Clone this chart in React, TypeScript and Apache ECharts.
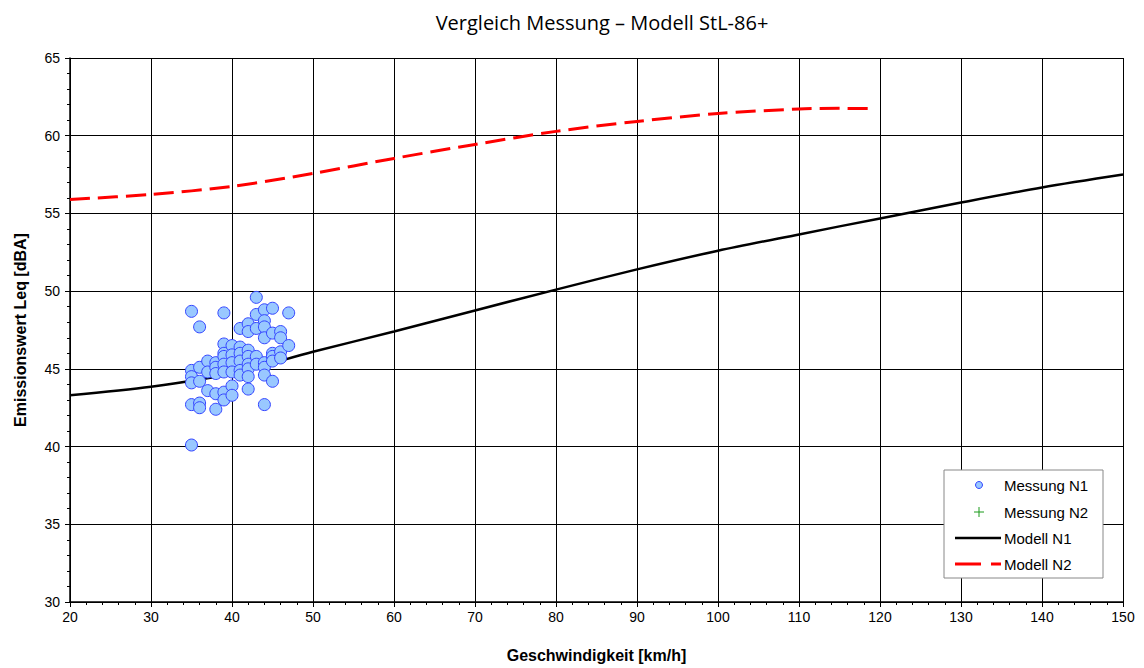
import React, { useEffect, useRef } from "react";
import * as echarts from "echarts";

const measX35 = [48.7, 44.9, 44.5, 44.1, 42.7, 40.1];
const measX36 = [47.7, 45.1, 44.2, 42.8, 42.5];
const measX37 = [45.5, 44.8, 43.6];
const measX38 = [45.4, 45.1, 44.7, 43.4, 42.4];
const measX39 = [48.6, 46.6, 46.0, 45.8, 45.3, 44.8, 43.5, 43.0];
const measX40 = [46.5, 45.9, 45.4, 44.8, 43.9, 43.3];
const measX41 = [47.6, 46.4, 46.0, 45.5, 44.9, 44.6];
const measX42 = [47.9, 47.4, 46.2, 45.8, 45.3, 45.0, 44.5, 43.7];
const measX43 = [49.6, 48.5, 47.6, 45.8, 45.3];
const measX44 = [48.8, 48.1, 47.7, 47.0, 45.4, 45.1, 44.6, 42.7];
const measX45 = [48.9, 47.3, 46.0, 45.8, 45.5, 44.2];
const measX46 = [47.4, 47.0, 46.1, 45.7];
const measX47 = [48.6, 46.5];

const measSpeeds = [35, 36, 37, 38, 39, 40, 41, 42, 43, 44, 45, 46, 47];
const measLevels = [measX35, measX36, measX37, measX38, measX39, measX40, measX41, measX42, measX43, measX44, measX45, measX46, measX47];

const modelN1Speeds = [20, 30, 40, 50, 60, 70, 80, 90, 100, 110, 120, 130, 140, 150];
const modelN1Values = [43.3, 43.85, 44.7, 46.1, 47.4, 48.76, 50.1, 51.4, 52.6, 53.65, 54.68, 55.7, 56.67, 57.5];

const modelN2Speeds = [20, 30, 40, 50, 60, 70, 80, 90, 100, 110, 115, 119];
const modelN2Values = [55.9, 56.22, 56.74, 57.57, 58.54, 59.44, 60.28, 60.92, 61.43, 61.72, 61.76, 61.74];

const legendLabels = ["Messung N1", "Messung N2", "Modell N1", "Modell N2"];

const titleText = "Vergleich Messung – Modell StL-86+";
const xName = "Geschwindigkeit [km/h]";
const yName = "Emissionswert Leq [dBA]";

export default function App() {
  const ref = useRef<HTMLDivElement>(null);
  useEffect(() => {
    if (!ref.current) return;
    const chart = echarts.init(ref.current, null, { renderer: "svg" });
    const scatterData: number[][] = [];
    measSpeeds.forEach((s, i) => measLevels[i].forEach((v) => scatterData.push([s, v])));
    const n1 = modelN1Speeds.map((s, i) => [s, modelN1Values[i]]);
    const n2 = modelN2Speeds.map((s, i) => [s, modelN2Values[i]]);
    const tickFont = { fontFamily: "Liberation Sans, Arial, sans-serif", fontSize: 14, color: "#000" };
    const nameFont = { fontFamily: "Liberation Sans, Arial, sans-serif", fontSize: 16, fontWeight: "bold", color: "#000" };
    const lx = 944, ly = 470;
    const rowY = [485, 512, 538, 564];
    chart.setOption({
      animation: false,
      backgroundColor: "#fff",
      title: {
        text: titleText,
        left: 597,
        top: 7,
        textAlign: "center",
        textStyle: { fontFamily: "Open Sans, Noto Sans, sans-serif", fontSize: 20, fontWeight: "normal", color: "#000" },
      },
      grid: { left: 70, top: 58, right: 21, bottom: 66, show: false },
      xAxis: {
        type: "value",
        min: 20,
        max: 150,
        interval: 10,
        name: xName,
        nameLocation: "middle",
        nameGap: 45,
        nameTextStyle: nameFont,
        axisLine: { show: true, onZero: false, lineStyle: { color: "#000", width: 1.5 } },
        axisTick: { show: true, inside: false, length: 5, lineStyle: { color: "#000" } },
        minorTick: { show: true, splitNumber: 5, length: 3, lineStyle: { color: "#000" } },
        axisLabel: { ...tickFont, margin: 8 },
        splitLine: { show: true, lineStyle: { color: "#000", width: 1 } },
      },
      yAxis: {
        type: "value",
        min: 30,
        max: 65,
        interval: 5,
        name: yName,
        nameLocation: "middle",
        nameGap: 42,
        nameTextStyle: nameFont,
        axisLine: { show: true, onZero: false, lineStyle: { color: "#000", width: 1.5 } },
        axisTick: { show: true, inside: false, length: 5, lineStyle: { color: "#000" } },
        minorTick: { show: true, splitNumber: 5, length: 3, lineStyle: { color: "#000" } },
        axisLabel: { ...tickFont, margin: 10 },
        splitLine: { show: true, lineStyle: { color: "#000", width: 1 } },
      },
      series: [
        {
          name: legendLabels[2],
          type: "line",
          data: n1,
          smooth: 0.3,
          showSymbol: false,
          lineStyle: { color: "#000", width: 2.5 },
          z: 2,
        },
        {
          name: legendLabels[3],
          type: "line",
          data: n2,
          smooth: 0.3,
          showSymbol: false,
          lineStyle: { color: "#ff0000", width: 3, type: [20, 8] },
          z: 2,
        },
        {
          name: legendLabels[0],
          type: "scatter",
          data: scatterData,
          symbol: "circle",
          symbolSize: 12,
          itemStyle: { color: "#99c8ff", borderColor: "#3344ff", borderWidth: 1, opacity: 1 },
          z: 3,
        },
      ],
      graphic: [
        {
          type: "rect",
          shape: { x: lx, y: ly, width: 159, height: 108 },
          style: { fill: "#fff", stroke: "#888", lineWidth: 1 },
          z: 100,
        },
        {
          type: "circle",
          shape: { cx: 979, cy: rowY[0], r: 3.5 },
          style: { fill: "#99c8ff", stroke: "#3344ff", lineWidth: 1 },
          z: 101,
        },
        {
          type: "line",
          shape: { x1: 974, y1: rowY[1], x2: 984, y2: rowY[1] },
          style: { stroke: "#1a9a1a", lineWidth: 1 },
          z: 101,
        },
        {
          type: "line",
          shape: { x1: 979, y1: rowY[1] - 5, x2: 979, y2: rowY[1] + 5 },
          style: { stroke: "#1a9a1a", lineWidth: 1 },
          z: 101,
        },
        {
          type: "line",
          shape: { x1: 955, y1: rowY[2], x2: 1001, y2: rowY[2] },
          style: { stroke: "#000", lineWidth: 2.5 },
          z: 101,
        },
        {
          type: "line",
          shape: { x1: 955, y1: rowY[3], x2: 1001, y2: rowY[3] },
          style: { stroke: "#ff0000", lineWidth: 3, lineDash: [26, 10] },
          z: 101,
        },
        ...legendLabels.map((t, i) => ({
          type: "text",
          x: 1004,
          y: rowY[i],
          style: {
            text: t,
            fill: "#000",
            font: "15px 'Liberation Sans', Arial, sans-serif",
            textVerticalAlign: "middle",
            verticalAlign: "middle",
          },
          z: 101,
        })),
      ],
    });
    return () => chart.dispose();
  }, []);
  return <div ref={ref} style={{ position: "fixed", left: 0, top: 0, width: 1144, height: 668 }} />;
}
